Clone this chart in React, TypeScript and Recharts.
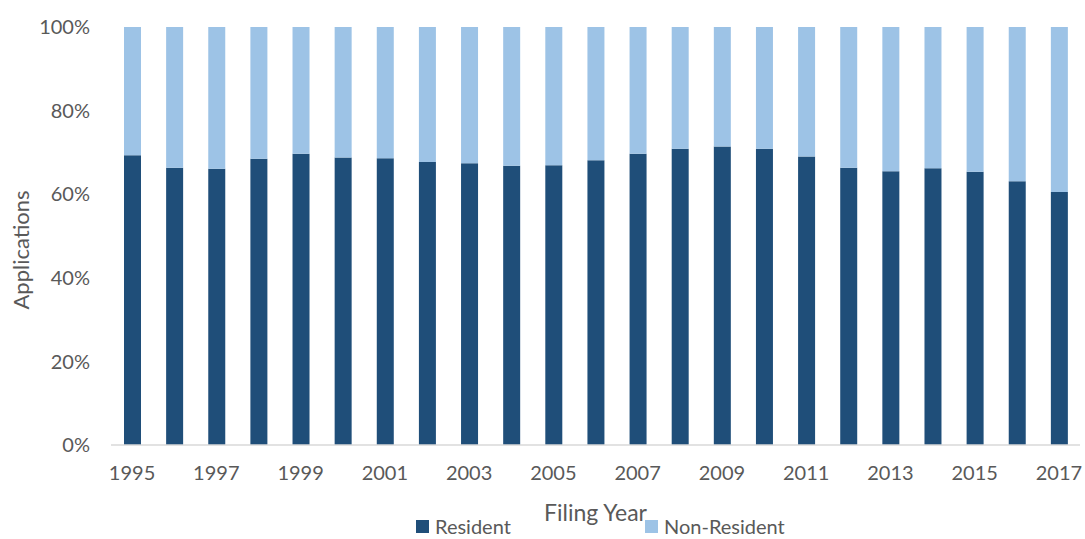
import { BarChart, Bar, XAxis, YAxis, Legend, Label } from 'recharts';

// share of applications by filing year, in percent
const years = [
  '1995', '1996', '1997', '1998', '1999', '2000', '2001', '2002', '2003', '2004', '2005', '2006',
  '2007', '2008', '2009', '2010', '2011', '2012', '2013', '2014', '2015', '2016', '2017',
];
const resident = [
  69.3, 66.3, 66.1, 68.5, 69.7, 68.8, 68.6, 67.7, 67.4, 66.8, 66.9, 68.1,
  69.7, 70.9, 71.4, 70.9, 69.0, 66.3, 65.5, 66.2, 65.4, 63.1, 60.5,
];
const nonResident = [
  30.7, 33.7, 33.9, 31.5, 30.3, 31.2, 31.4, 32.3, 32.6, 33.2, 33.1, 31.9,
  30.3, 29.1, 28.6, 29.1, 31.0, 33.7, 34.5, 33.8, 34.6, 36.9, 39.5,
];
const yTicks = [0, 20, 40, 60, 80, 100];

const DARK = '#1F4E79';
const LIGHT = '#9DC3E6';
const TEXT = '#595959';
const FONT = 'Lato, "Open Sans", sans-serif';

const data = years.map((year, i) => ({
  year,
  resident: resident[i],
  nonResident: nonResident[i],
}));

const legendItems = [
  { name: 'Resident', color: DARK, left: 416 },
  { name: 'Non-Resident', color: LIGHT, left: 645 },
];

const LegendContent = () => (
  <div style={{ position: 'relative', width: 1085, height: 24 }}>
    {legendItems.map((item) => (
      <div
        key={item.name}
        style={{
          position: 'absolute',
          left: item.left,
          top: 0,
          height: 24,
          display: 'flex',
          alignItems: 'center',
          fontFamily: FONT,
          fontSize: 20,
          lineHeight: '24px',
          color: TEXT,
          whiteSpace: 'nowrap',
        }}
      >
        <span style={{ width: 13, height: 13, background: item.color, marginRight: 6 }} />
        {item.name}
      </div>
    ))}
  </div>
);

const App = () => {
  return (
    <div style={{ position: 'absolute', left: 0, top: 0, width: 1085, height: 539, overflow: 'hidden' }}>
      <BarChart
        width={1085}
        height={539}
        data={data}
        margin={{ top: 27, right: 5, bottom: 0, left: 0 }}
        barSize={17}
      >
        <XAxis
          dataKey="year"
          interval={1}
          height={94}
          tickSize={0}
          tickMargin={21}
          tick={{ fill: TEXT, fontSize: 20, fontFamily: FONT }}
          axisLine={{ stroke: '#D9D9D9', strokeWidth: 1.5 }}
        >
          <Label
            value="Filing Year"
            position="insideTop"
            offset={60}
            style={{ fill: TEXT, fontSize: 23, fontFamily: FONT }}
          />
        </XAxis>
        <YAxis
          width={111}
          domain={[0, 100]}
          ticks={yTicks}
          tickFormatter={(v: number) => `${v}%`}
          tickSize={0}
          tickMargin={21}
          axisLine={false}
          tick={{ fill: TEXT, fontSize: 20, fontFamily: FONT }}
        >
          <Label
            content={({ viewBox }: any) => {
              const cy = viewBox.y + viewBox.height / 2 + 14;
              return (
                <text
                  x={20}
                  y={cy}
                  transform={`rotate(-90, 20, ${cy})`}
                  textAnchor="middle"
                  dominantBaseline="central"
                  fill={TEXT}
                  fontSize={22}
                  fontFamily={FONT}
                >
                  Applications
                </text>
              );
            }}
          />
        </YAxis>
        <Legend
          layout="horizontal"
          verticalAlign="middle"
          align="center"
          content={<LegendContent />}
          wrapperStyle={{ position: 'absolute', top: 514, left: 0, width: 1085 }}
        />
        <Bar dataKey="resident" name="Resident" stackId="a" fill={DARK} isAnimationActive={false} />
        <Bar dataKey="nonResident" name="Non-Resident" stackId="a" fill={LIGHT} isAnimationActive={false} />
      </BarChart>
    </div>
  );
};

export default App;
